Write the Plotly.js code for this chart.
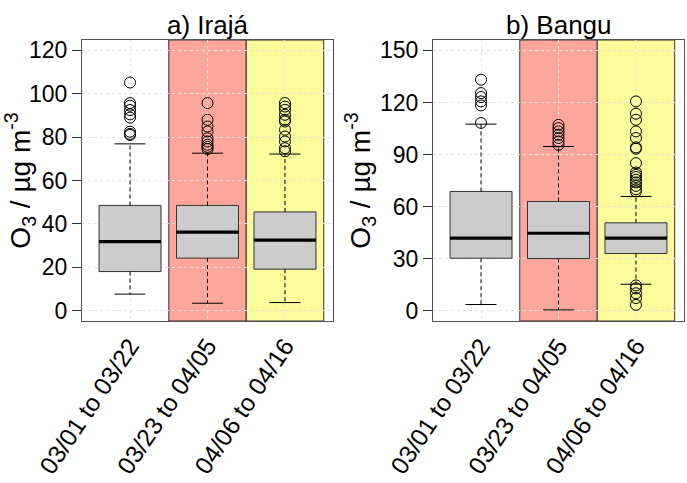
<!DOCTYPE html>
<html>
<head>
<meta charset="utf-8">
<script src="https://cdn.plot.ly/plotly-3.0.1.min.js"></script>
<style>
  html, body { margin: 0; padding: 0; background: #fff; }
  #chart { width: 687px; height: 483px; }
</style>
</head>
<body>
<div id="chart"></div>
<script>
/****************************************************************************************
* Data
****************************************************************************************/
const periods = ['03/01 to 03/22', '03/23 to 04/05', '04/06 to 04/16'];
const periodPos = [1, 2, 3];
// periods drawn on a coloured background
const shadedPos = [2, 3];

// a) Irajá
const irajaLow = [7.6, 3.4, 3.7];
const irajaQ1 = [18.0, 24.2, 19.1];
const irajaMedian = [31.8, 36.2, 32.5];
const irajaQ3 = [48.5, 48.5, 45.5];
const irajaHigh = [76.9, 72.6, 72.2];
const irajaOutliers = [
    [105.2, 95.7, 94.5, 92.5, 90.5, 89.0, 82.5, 81.5, 81.0],
    [95.7, 88.0, 84.9, 82.6, 79.5, 78.0, 76.5, 75.5, 74.5],
    [95.7, 94.1, 92.6, 90.3, 88.0, 87.2, 83.4, 80.3, 78.0, 74.9, 73.5]
];

// b) Bangu
const banguLow = [3.5, 0.4, 15.2];
const banguQ1 = [30.2, 30.0, 32.9];
const banguMedian = [41.8, 44.6, 41.8];
const banguQ3 = [68.7, 62.9, 50.6];
const banguHigh = [107.5, 94.6, 65.8];
const banguOutliers = [
    [133.1, 125.4, 123.1, 120.6, 118.3, 108.2],
    [107.1, 105.2, 103.3, 101.4, 99.5, 97.5, 95.6],
    [120.6, 113.5, 110.0, 103.3, 99.5, 94.1, 93.3, 85.0, 79.6, 78.3, 77.0, 75.4, 73.9, 71.9,
     70.0, 68.7, 14.5, 12.9, 10.0, 7.2, 3.3]
];

/****************************************************************************************
* Styles
****************************************************************************************/
const FONT = 'Liberation Sans, Arial, sans-serif';
const BOX_WIDTH = 0.8;
const CAP_HALF = 0.2;
const SHADE_COLORS = ['#FDA69C', '#FBFB9B'];
const FRAME_COLOR = '#555';
const GRID_COLOR = '#E3E3E3';

// builds the traces of one panel on axes (xa, ya)
function panelTraces(xa, ya, low, q1, med, q3, high, outliers) {
    let traces = [];
    // grey boxes (whiskers are drawn separately, dashed)
    traces.push({
        type: 'box', xaxis: xa, yaxis: ya,
        x: periodPos, q1: q1, median: med, q3: q3,
        lowerfence: q1, upperfence: q3,
        width: BOX_WIDTH, whiskerwidth: 0,
        fillcolor: '#CCCCCC',
        line: { color: '#333', width: 1 },
        hoverinfo: 'skip', showlegend: false
    });
    let wx = [], wy = [];
    let cx = [], cy = [];
    let mx = [], my = [];
    for (let i = 0; i < periodPos.length; i++) {
        let p = periodPos[i];
        wx.push(p, p, null, p, p, null);
        wy.push(q3[i], high[i], null, q1[i], low[i], null);
        cx.push(p - CAP_HALF, p + CAP_HALF, null, p - CAP_HALF, p + CAP_HALF, null);
        cy.push(high[i], high[i], null, low[i], low[i], null);
        mx.push(p - BOX_WIDTH / 2, p + BOX_WIDTH / 2, null);
        my.push(med[i], med[i], null);
    }
    // dashed whiskers
    traces.push({
        type: 'scatter', mode: 'lines', xaxis: xa, yaxis: ya,
        x: wx, y: wy, line: { color: '#000', width: 1, dash: '4px,3px' },
        hoverinfo: 'skip', showlegend: false
    });
    // whisker caps
    traces.push({
        type: 'scatter', mode: 'lines', xaxis: xa, yaxis: ya,
        x: cx, y: cy, line: { color: '#000', width: 1 },
        hoverinfo: 'skip', showlegend: false
    });
    // thick median lines
    traces.push({
        type: 'scatter', mode: 'lines', xaxis: xa, yaxis: ya,
        x: mx, y: my, line: { color: '#000', width: 3.2 },
        hoverinfo: 'skip', showlegend: false
    });
    // outliers
    let ox = [], oy = [];
    outliers.forEach((vals, i) => vals.forEach(v => { ox.push(periodPos[i]); oy.push(v); }));
    traces.push({
        type: 'scatter', mode: 'markers', xaxis: xa, yaxis: ya,
        x: ox, y: oy,
        marker: { symbol: 'circle-open', size: 11, color: '#000', line: { width: 1 } },
        hoverinfo: 'skip', showlegend: false
    });
    return traces;
}

function shadeShapes(xref) {
    return shadedPos.map((p, i) => ({
        type: 'rect', xref: xref, yref: xref.replace('x', 'y') + ' domain',
        x0: p - 0.5, x1: p + 0.5, y0: 0, y1: 1,
        fillcolor: SHADE_COLORS[i], line: { color: '#333', width: 1 }, layer: 'below'
    }));
}

function xAxis(domain, anchor) {
    return {
        domain: domain, anchor: anchor, range: [0.38, 3.62],
        tickvals: periodPos, ticktext: periods, tickangle: -56,
        ticks: '', tickfont: { family: FONT, size: 24.5, color: '#000' },
        ticklabelstandoff: 0,
        showgrid: true, gridcolor: GRID_COLOR, griddash: 'dot', zeroline: false,
        showline: true, mirror: true, linecolor: FRAME_COLOR, linewidth: 1
    };
}

function yAxis(domain, anchor, range, dtick) {
    return {
        domain: domain, anchor: anchor, range: range, dtick: dtick,
        ticks: 'outside', ticklen: 9, tickcolor: '#333',
        tickfont: { family: FONT, size: 23, color: '#000' },
        title: { text: 'O<sub>3</sub> / µg m<sup>-3</sup>', font: { family: FONT, size: 28, color: '#000' }, standoff: 1 },
        showgrid: true, gridcolor: GRID_COLOR, griddash: 'dot', zeroline: false,
        showline: true, mirror: true, linecolor: FRAME_COLOR, linewidth: 1
    };
}

const yDomain = [1 - 321 / 483, 1 - 40 / 483];
const data = [].concat(
    panelTraces('x', 'y', irajaLow, irajaQ1, irajaMedian, irajaQ3, irajaHigh, irajaOutliers),
    panelTraces('x2', 'y2', banguLow, banguQ1, banguMedian, banguQ3, banguHigh, banguOutliers)
);

const layout = {
    width: 687, height: 483,
    margin: { l: 0, r: 0, t: 0, b: 0 },
    paper_bgcolor: '#fff', plot_bgcolor: '#fff',
    showlegend: false,
    xaxis: xAxis([82 / 687, 333 / 687], 'y'),
    yaxis: yAxis(yDomain, 'x', [-4.8, 124.8], 20),
    xaxis2: xAxis([433 / 687, 684 / 687], 'y2'),
    yaxis2: yAxis(yDomain, 'x2', [-6, 156], 30),
    shapes: shadeShapes('x').concat(shadeShapes('x2')),
    annotations: [
        { text: 'a) Irajá', xref: 'x domain', yref: 'paper', x: 0.5, y: 1 - 25 / 483,
          xanchor: 'center', yanchor: 'middle', showarrow: false, font: { family: FONT, size: 26, color: '#000' } },
        { text: 'b) Bangu', xref: 'x2 domain', yref: 'paper', x: 0.5, y: 1 - 25 / 483,
          xanchor: 'center', yanchor: 'middle', showarrow: false, font: { family: FONT, size: 26, color: '#000' } }
    ]
};

Plotly.newPlot('chart', data, layout, { staticPlot: true, displayModeBar: false });
</script>
</body>
</html>
